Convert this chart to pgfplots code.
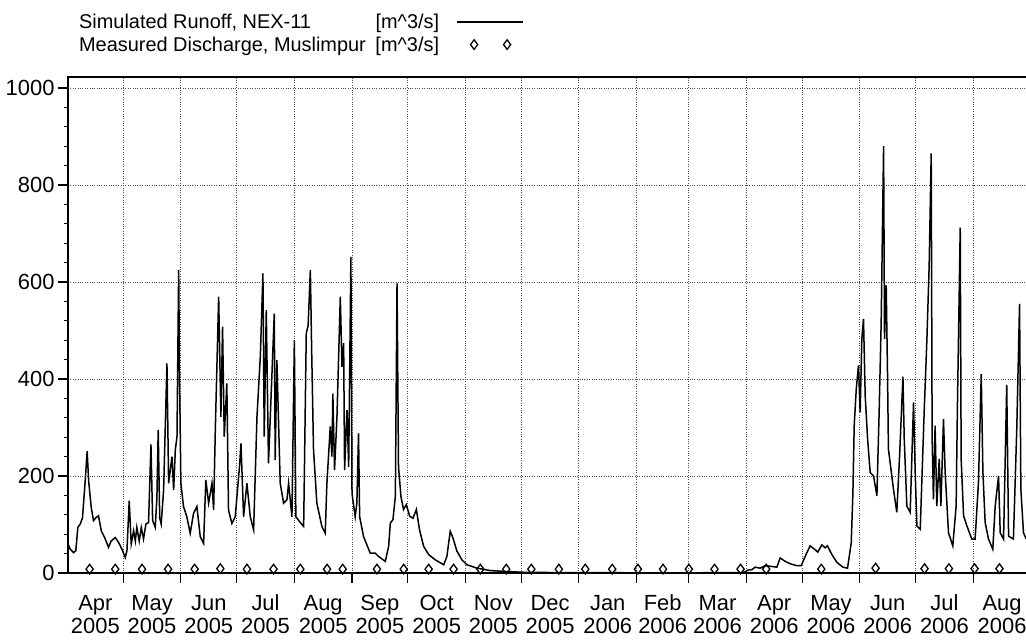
\documentclass[border=0pt]{standalone}
\usepackage{fontspec}
\setmainfont{Liberation Sans}
\usepackage{pgfplots}
\pgfplotsset{compat=1.18}
\pgfplotsset{
  leglinestyle/.style={legend image code/.code={\pgfpathrectangle{\pgfpoint{0bp}{-1bp}}{\pgfpoint{86bp}{2bp}}\pgfusepath{discard}\draw[##1] (16bp,0) -- (82bp,0);}},
  legmarkstyle/.style={legend image code/.code={\pgfpathrectangle{\pgfpoint{0bp}{-1bp}}{\pgfpoint{86bp}{2bp}}\pgfusepath{discard}\draw[##1] plot[only marks] coordinates {(33bp,0) (66bp,0)};}},
}
\newcommand{\ml}[2]{\begin{tabular}{@{}c@{}}\rule[-6bp]{0pt}{23bp}#1\\\rule[-6bp]{0pt}{23bp}#2\end{tabular}}
\begin{document}
\begin{tikzpicture}
\useasboundingbox (0,0) rectangle (1026bp,644bp);
\begin{axis}[
  at={(68bp,71bp)}, anchor=south west,
  scale only axis, width=962.9bp, height=496bp,
  xmin=0.3, xmax=518, ymin=0, ymax=1022.7,
  xtick={30,61,91,122,153,183,214,244,275,306,334,365,395,426,456,487},
  xticklabels={},
  extra x ticks={15,45.5,76,106.5,137.5,168,198.5,229,259.5,290.5,320,349.5,380,410.5,441,471.5,502.5},
  extra x tick labels={\ml{Apr}{2005},\ml{May}{2005},\ml{Jun}{2005},\ml{Jul}{2005},\ml{Aug}{2005},\ml{Sep}{2005},\ml{Oct}{2005},\ml{Nov}{2005},\ml{Dec}{2005},\ml{Jan}{2006},\ml{Feb}{2006},\ml{Mar}{2006},\ml{Apr}{2006},\ml{May}{2006},\ml{Jun}{2006},\ml{Jul}{2006},\ml{Aug}{2006}},
  extra x tick style={grid=none, major tick length=0pt,
    xticklabel style={anchor=north, inner sep=0pt, yshift=-20bp}},
  ytick={0,200,400,600,800,1000},
  minor y tick num=4,
  xtick pos=bottom, ytick pos=left,
  tick align=outside,
  major tick length=10bp, minor tick length=4bp,
  xmajorgrids, ymajorgrids,
  major grid style={black!70, dotted, line width=0.9bp},
  axis line style={black, line width=1.2bp},
  tick style={black, line width=1.1bp},
  ticklabel style={font=\fontsize{22}{22}\selectfont},
  /pgf/number format/assume math mode=true,
  /pgf/number format/1000 sep={},
  legend plot pos=right,
  legend cell align=left,
  legend style={at={(axis description cs:0.0093,1.131)}, anchor=north west,
    draw=none, fill=none, inner sep=0pt, row sep=2.5bp,
    font=\fontsize{20}{24}\selectfont},
]
\addplot[black, line width=1.5bp, leglinestyle]
  table {
x y
0.3 60
1.5 49
3.3 42
4.5 46
5.6 94
6.9 101
8.1 114
9.6 193
10.6 251
11.4 190
12.8 135
14.0 108
15.3 114
16.7 118
18.2 87
20.0 73
22.1 53
23.5 66
25.7 73
27.5 63
29.3 49
31.1 32
32.0 46
33.2 149
34.3 60
35.6 87
36.5 66
37.3 94
38.6 66
39.7 94
40.9 70
42.2 101
43.6 104
44.9 265
45.8 108
47.2 94
48.1 155
48.8 295
49.6 114
50.4 101
51.7 171
53.5 432
54.4 185
56.2 240
57.1 171
58.0 254
58.9 281
59.8 625
60.3 391
61.0 185
62.4 137
64.2 116
66.0 82
67.8 123
69.6 137
71.4 75
73.2 61
74.4 192
75.9 144
77.7 185
78.6 130
79.5 295
81.3 570
82.5 322
83.4 508
84.3 281
85.7 391
86.6 130
88.4 102
90.2 116
92.5 219
93.3 267
94.7 116
96.5 185
98.3 116
100.1 89
101.9 322
103.7 446
105.1 618
105.8 281
106.9 542
108.1 226
109.9 405
111.2 535
111.7 233
112.6 439
114.4 185
116.2 144
118.0 151
118.9 185
120.7 116
122.0 480
122.8 116
125.0 105
127.0 96
128.4 494
129.4 510
130.6 625
131.3 460
132.3 254
134.1 144
136.8 96
138.6 82
139.5 185
141.3 302
142.2 240
142.7 370
143.6 212
144.9 322
146.7 570
147.6 425
148.5 474
149.0 212
150.3 336
151.2 219
152.4 652
153.0 164
154.7 116
155.6 144
156.5 288
157.1 116
159.2 75
162.8 41
165.5 41
167.3 34
170.9 24
172.7 55
173.6 103
175.0 110
176.3 158
177.2 597
178.0 219
179.3 158
180.7 131
182.2 141
184.0 117
185.8 113
187.6 131
189.3 89
191.5 55
194.2 38
197.8 27
202.3 17
204.0 34
205.8 86
207.3 72
209.4 45
212.1 27
214.8 17
220.2 10
227.3 5
236.3 3
245.3 1.5
265 0.8
300 0.5
340 0.5
362 0.8
364 2
366 6
368 7
369.7 12
372.4 10
375.1 15
377.8 14
381.4 12
383.2 31
385.9 24
388.6 19
392.1 15
394.5 15
396.6 34
399.3 56
402.0 48
403.4 43
405.6 58
407.4 52
408.6 56
411.0 38
413.7 22
416.9 12
419.4 10
421.4 62
422.3 165
423.0 304
424.1 379
425.3 428
426.2 331
427.1 483
428.0 524
428.9 366
430.2 276
431.6 207
433.4 200
435.2 159
436.4 331
437.5 517
438.8 880
439.3 483
440.2 593
440.9 414
441.4 255
442.3 228
444.1 173
445.9 125
447.4 242
449.2 405
449.9 276
451.3 138
453.1 125
454.9 352
455.8 207
456.7 97
458.5 90
460.6 331
462.1 483
463.3 634
464.4 865
464.9 276
465.6 152
466.5 304
467.4 138
468.7 235
469.6 138
471.0 317
471.9 207
473.7 83
476.0 56
477.8 138
478.5 345
480.0 712
480.5 235
481.8 118
483.6 97
486.2 70
488.0 70
489.8 186
491.3 410
492.2 207
493.4 104
495.2 70
497.5 49
498.8 138
500.6 200
501.5 83
503.3 70
505.0 388
506.0 76
508.6 70
510.4 297
511.9 555
512.6 173
514.0 83
515.5 70
};
\addlegendentry{\makebox[360bp][l]{Simulated Runoff, NEX-11\hfill[m\^{}3/s]}}
\addplot[only marks, mark=diamond, mark size=4.8bp, black, mark options={line width=1.3bp, fill=white}, legmarkstyle]
  table {
x y
11.9 8
25.7 8
40.1 8
54.1 8
68.4 8
82.2 9
96.5 8
110.8 8
125.2 8
139.6 8
148.0 8
166.4 8
180.8 8
194.2 8
207.6 8
222.0 8
235.9 8
249.4 8
264.2 8
278.4 8
292.9 8
306.7 8
320.2 8
334.1 8
347.9 8
361.9 8
375.7 8
405.3 8
434.5 10
460.8 9
473.9 9
487.7 9
501.1 9
};
\addlegendentry{\makebox[360bp][l]{Measured Discharge, Muslimpur\hfill[m\^{}3/s]}}
\end{axis}
\end{tikzpicture}
\end{document}
